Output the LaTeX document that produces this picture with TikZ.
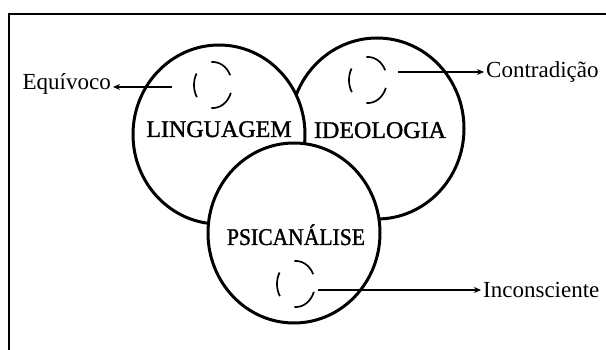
\documentclass[tikz,border=0pt]{standalone}
\usepackage{fontspec}
\setmainfont{Liberation Serif}
\newfontfamily\fieldfont[FakeBold=1.3]{Liberation Serif}
\usetikzlibrary{shapes.geometric,arrows.meta}
\tikzset{
  field/.style={ellipse, draw, fill=white, line width=3pt, inner sep=0pt},
  fieldname/.style={anchor=base, font=\fieldfont\fontsize{24}{26}\selectfont, inner sep=0pt},
  effect/.style={font=\fontsize{23}{25}\selectfont, inner sep=2pt},
  ringdash/.style={line width=1.7pt},
  pointer/.style={-{Stealth[length=7pt,width=6pt]}, line width=1.1pt}
}
\begin{document}
\begin{tikzpicture}[x=1pt, y=-1pt]
    \useasboundingbox (0,0) rectangle (606,350);
    % Moldura (so dois lados visiveis)
    \draw[line width=1.4pt] (9,350) -- (9,14) -- (606,14);

    % Campos: ideologia por baixo, psicanalise por cima
    \node[field, minimum width=174pt, minimum height=181pt] (ideo) at (377,128.5) {};
    \node[field, minimum width=172pt, minimum height=179pt] (ling) at (219,134.5) {};
    \node[field, minimum width=172pt, minimum height=180pt] (psi) at (294,233) {};

    % Nomes dos campos
    \node[fieldname] (lingtxt) at (219,137) {LINGUAGEM};
    \node[fieldname] (ideotxt) at (380,138) {IDEOLOGIA};
    \node[fieldname] (psitxt) at (296,245) {\scalebox{0.9}[1]{PSICANÁLISE}};

    % Pequenos aneis tracejados
    \coordinate (ringl) at (213,85);
    \coordinate (ringi) at (368,80);
    \coordinate (ringp) at (296,284);
    \foreach \c in {ringl,ringi,ringp}
      \foreach \a/\b in {-95/-25, 148/210, 20/95}
        \draw[ringdash] (\c) ++(\a:19 and 23) arc[start angle=\a, end angle=\b, x radius=19, y radius=23];

    % Efeitos
    \node[effect, anchor=base east] (equiv) at (113,90) {Equívoco};
    \node[effect, anchor=base west] (contra) at (484,78) {Contradição};
    \node[effect, anchor=base west] (incons) at (481,298) {Inconsciente};

    \coordinate (froml) at (172,87);
    \coordinate (fromi) at (398,72);
    \coordinate (fromp) at (318,290);
    \draw[pointer] (froml) -- (froml -| equiv.east);
    \draw[pointer] (fromi) -- (fromi -| contra.west);
    \draw[pointer] (fromp) -- (fromp -| incons.west);
\end{tikzpicture}
\end{document}
